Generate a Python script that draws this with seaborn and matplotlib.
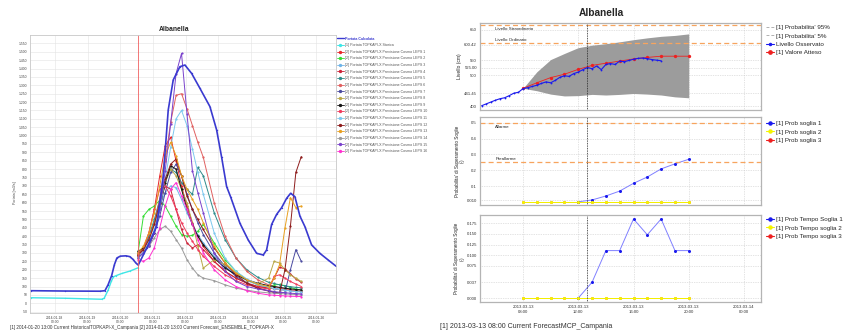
import matplotlib
matplotlib.use("Agg")
import matplotlib.pyplot as plt
import matplotlib.dates as mdates
from matplotlib.lines import Line2D
import numpy as np
import pandas as pd
import seaborn as sns

# ---------------- left chart: hydrograph ----------------
calc_tempi = ["2014-01-17 06:09", "2014-01-18 07:20", "2014-01-19 09:03", "2014-01-19 12:44",
              "2014-01-19 15:00", "2014-01-19 17:40", "2014-01-19 19:40", "2014-01-19 21:30",
              "2014-01-20 00:00", "2014-01-20 04:09", "2014-01-20 07:06", "2014-01-20 09:18",
              "2014-01-20 11:30", "2014-01-20 13:12", "2014-01-20 19:21", "2014-01-21 02:38",
              "2014-01-21 07:33", "2014-01-21 11:14", "2014-01-21 14:54", "2014-01-21 19:49",
              "2014-01-21 23:30", "2014-01-22 04:25", "2014-01-22 10:31", "2014-01-22 17:52",
              "2014-01-22 22:47", "2014-01-23 02:24", "2014-01-23 06:08", "2014-01-23 09:00",
              "2014-01-23 15:55", "2014-01-23 22:02", "2014-01-24 04:11", "2014-01-24 09:04",
              "2014-01-24 11:30", "2014-01-24 15:11", "2014-01-24 18:52", "2014-01-24 22:32",
              "2014-01-25 02:13", "2014-01-25 05:10", "2014-01-25 08:18", "2014-01-25 12:00",
              "2014-01-25 15:40", "2014-01-25 20:34", "2014-01-26 02:38", "2014-01-26 08:47",
              "2014-01-26 14:24"]
calc_portata = [75, 73, 72, 75, 110, 165, 230, 270, 281, 283, 278, 262, 240, 228, 328, 457,
                755, 1153, 1332, 1411, 1421, 1371, 1282, 1173, 1034, 874, 696, 636, 477, 377,
                298, 288, 318, 470, 530, 570, 626, 656, 636, 520, 457, 348, 298, 258, 222]

stor_tempi = ["2014-01-17 06:09", "2014-01-18 07:20", "2014-01-19 10:18", "2014-01-19 12:10",
              "2014-01-19 15:10", "2014-01-19 17:20", "2014-01-19 19:00", "2014-01-19 21:00",
              "2014-01-20 01:12", "2014-01-20 07:06", "2014-01-20 13:12"]
stor_portata = [33, 30, 24, 30, 80, 130, 158, 165, 178, 192, 212]

ens_inizio = "2014-01-20 13:00"
ens_ore = [0, 4, 8, 12, 16, 20, 24, 28, 32, 36, 40, 44, 48, 56, 64, 72, 80, 88, 96,
           100, 104, 108, 112, 116, 120]
leps_1 = [290, 330, 420, 560, 760, 940, 990, 850, 700, 580, 480, 400, 340, 250, 190, 150, 120, 100, 90, 86, 82, 78, 75, 72, 70]
leps_2 = [300, 520, 560, 580, 615, 580, 520, 460, 410, 400, 405, 430, 470, 360, 260, 190, 140, 110, 95, 110, 112, 105, 95, 85, 78]
leps_3 = [290, 320, 380, 470, 580, 660, 700, 690, 620, 540, 470, 410, 360, 280, 220, 170, 135, 110, 95, 90, 85, 80, 76, 72, 70]
leps_4 = [300, 330, 390, 480, 600, 700, 680, 560, 440, 360, 330, 350, 320, 250, 190, 150, 120, 100, 90, 150, 215, 205, 175, 145, 125]
leps_5 = [280, 320, 400, 500, 620, 730, 800, 780, 720, 680, 650, 810, 760, 540, 380, 270, 200, 155, 125, 118, 110, 104, 99, 95, 92]
leps_6 = [280, 320, 380, 470, 620, 850, 1080, 1240, 1250, 1160, 1060, 960, 870, 600, 400, 270, 190, 140, 110, 100, 92, 86, 80, 76, 72]
leps_7 = [280, 300, 350, 420, 520, 660, 780, 830, 760, 650, 560, 480, 410, 300, 220, 160, 120, 90, 75, 65, 60, 65, 200, 320, 250]
leps_8 = [290, 320, 380, 470, 590, 720, 800, 760, 680, 600, 480, 340, 210, 260, 230, 180, 140, 115, 150, 250, 240, 200, 170, 150, 130]
leps_9 = [310, 330, 340, 420, 560, 720, 820, 800, 680, 560, 470, 400, 350, 270, 210, 170, 140, 120, 105, 100, 95, 90, 86, 82, 80]
leps_10 = [280, 320, 420, 560, 680, 700, 640, 560, 480, 420, 370, 320, 280, 220, 170, 135, 110, 95, 85, 160, 170, 150, 130, 115, 100]
leps_11 = [275, 310, 360, 440, 560, 740, 930, 1100, 1150, 1060, 920, 780, 650, 420, 270, 190, 145, 115, 95, 88, 82, 77, 73, 70, 67]
leps_12 = [290, 320, 380, 470, 600, 740, 830, 860, 760, 640, 560, 500, 440, 330, 240, 170, 120, 90, 72, 65, 60, 200, 460, 780, 875]
leps_13 = [300, 340, 420, 540, 700, 880, 960, 880, 760, 680, 620, 560, 480, 340, 240, 180, 140, 115, 100, 150, 230, 450, 630, 570, 580]
leps_14 = [270, 300, 340, 390, 440, 460, 430, 380, 330, 260, 210, 170, 150, 135, 110, 90, 78, 68, 62, 60, 58, 56, 54, 52, 50]
leps_15 = [270, 300, 340, 420, 560, 790, 1070, 1370, 1490, 1130, 790, 660, 540, 300, 190, 130, 100, 85, 75, 70, 66, 63, 60, 58, 56]
leps_16 = [260, 250, 270, 330, 450, 580, 680, 720, 640, 560, 470, 380, 300, 200, 140, 100, 75, 60, 50, 48, 46, 44, 42, 41, 40]
ensemble = [leps_1, leps_2, leps_3, leps_4, leps_5, leps_6, leps_7, leps_8,
            leps_9, leps_10, leps_11, leps_12, leps_13, leps_14, leps_15, leps_16]
ens_colori = ["#e8262a", "#35dd35", "#6fb4e8", "#cc2238", "#2e8b8b", "#e06060", "#4a4aa0", "#b8a848",
              "#151515", "#f03a5c", "#7cc8ee", "#8e1c1c", "#e8a020", "#9a9a9a", "#7a42cc", "#ff30d0"]
ens_nomi = [f"[2] Portata TOPKAPI-X Previsione Cosmo LEPS {i}" for i in range(1, 17)]

# ---------------- right charts: level and probabilities ----------------
giorno = "2013-03-13 "
obs_ore = ["05:00", "05:20", "05:40", "06:00", "06:20", "06:40", "07:00", "07:20", "07:40", "08:00",
           "08:20", "08:40", "09:00", "09:20", "09:40", "10:00", "10:20", "10:40", "11:00", "11:20",
           "11:40", "12:00", "12:20", "12:40", "13:00", "13:20", "13:40", "14:00", "14:20", "14:40",
           "15:00", "15:20", "15:40", "16:00", "16:20", "16:40", "17:00", "17:20", "17:40", "18:00"]
obs_livello = [401, 407, 413, 419, 424, 427, 434, 442, 445, 457,
               460, 464, 468, 474, 479, 476, 484, 494, 499, 497,
               506, 511, 519, 526, 522, 531, 519, 536, 539, 536,
               547, 545, 549, 553, 556, 557, 555, 552, 550, 548]

prev_ore = ["08:00", "09:00", "10:00", "11:00", "12:00", "13:00", "14:00",
            "15:00", "16:00", "17:00", "18:00", "19:00", "20:00"]
valore_atteso = [458, 476, 493, 504, 520, 533, 540, 547, 554, 559, 563, 563, 563]
prob_95 = [458, 512, 552, 572, 591, 599, 604, 610, 617, 623, 628, 631, 636]
prob_5 = [458, 450, 439, 433, 434, 438, 436, 438, 441, 439, 436, 430, 427]
liv_straordinario = 664
liv_ordinario = 607

soglia_ore = ["12:00", "13:00", "14:00", "15:00", "16:00", "17:00", "18:00", "19:00", "20:00"]
prob_soglia_1 = [0.0, 0.012, 0.037, 0.068, 0.117, 0.157, 0.208, 0.24, 0.269]
prob_soglia_2 = [0.0] * 13
prob_soglia_3 = [0.0] * 13
tempo_soglia_1 = [0.0, 0.037, 0.111, 0.111, 0.185, 0.148, 0.185, 0.111, 0.111]
tempo_soglia_2 = [0.0] * 13
tempo_soglia_3 = [0.0] * 13
allarme = 0.5
preallarme = 0.25
ora_corrente = "12:40"

# ---------------- figure ----------------
sns.set_theme(style="white")
plt.rcParams["font.family"] = ["Liberation Sans", "DejaVu Sans"]

fig = plt.figure(figsize=(8.44, 3.33), dpi=100)
fig.patch.set_facecolor("white")

# left chart
ax = fig.add_axes([30 / 844, 1 - 313 / 333, 306 / 844, 278 / 333])
ax.set_facecolor("white")
t0 = pd.Timestamp(ens_inizio)
righe = []
for nome, valori in zip(ens_nomi, ensemble):
    for h, v in zip(ens_ore, valori):
        righe.append({"time": t0 + pd.Timedelta(hours=h), "portata": v, "serie": nome})
ens_df = pd.DataFrame(righe)
palette = dict(zip(ens_nomi, ens_colori))

sns.lineplot(x=pd.to_datetime(stor_tempi), y=stor_portata, color="#3fe6e6", lw=1.0,
             marker="o", ms=1.0, mew=0, ax=ax)
sns.lineplot(data=ens_df, x="time", y="portata", hue="serie", hue_order=ens_nomi,
             palette=palette, lw=0.7, marker="o", ms=1.6, mew=0, dashes=False,
             estimator=None, sort=False, legend=False, ax=ax)
sns.lineplot(x=pd.to_datetime(calc_tempi), y=calc_portata, color="#3a3ad0", lw=1.2,
             marker="o", ms=1.0, mew=0, ax=ax)
ax.axvline(t0, color="#f06060", lw=0.6)

ax.set_xlim(pd.Timestamp("2014-01-17 05:40"), pd.Timestamp("2014-01-26 14:30"))
ax.set_ylim(-58, 1600)
ax.set_yticks(np.arange(-50, 1551, 50))
ax.yaxis.set_major_formatter(plt.FuncFormatter(lambda v, p: f"{v:,.0f}".replace(",", ".")))
ax.set_xticks(pd.date_range("2014-01-18", "2014-01-26", freq="D"))
ax.xaxis.set_major_formatter(mdates.DateFormatter("%Y-%m-%d\n%H:%M"))
ax.tick_params(labelsize=2.4, length=1, width=0.3, pad=1, colors="#444444")
ax.grid(True, color="#e4e4e4", lw=0.4)
for s in ax.spines.values():
    s.set_color("#c8c8c8")
    s.set_linewidth(0.6)
ax.set_xlabel("")
ax.set_ylabel("")
fig.text(15 / 844, 1 - 193 / 333, "Portata [m3/s]", rotation=90, fontsize=2.6,
         ha="center", va="center", color="#444444")
fig.text(174 / 844, 1 - 29.5 / 333, "Albanella", fontsize=4.9, fontweight="bold",
         ha="center", va="center")

h_left = [Line2D([], [], color="#3a3ad0", lw=1.0),
          Line2D([], [], color="#3fe6e6", lw=0.7, marker="o", ms=1.4)]
h_left += [Line2D([], [], color=c, lw=0.6, marker="o", ms=1.4) for c in ens_colori]
l_left = ["Portata Calcolata", "[1] Portata TOPKAPI-X Storica"] + ens_nomi
leg = fig.legend(h_left, l_left, loc="upper left", bbox_to_anchor=(337 / 844, 1 - 36.5 / 333),
                 fontsize=2.6, frameon=False, handlelength=1.8, handletextpad=0.5,
                 labelspacing=0.73, borderpad=0, borderaxespad=0)
for t in leg.get_texts():
    t.set_color("#555555")
leg.get_texts()[0].set_color("#3a3ad0")
leg.get_texts()[0].set_fontweight("bold")

fig.text(10 / 844, 1 - 328 / 333,
         "[1] 2014-01-20 13:00 Current HistoricalTOPKAPI-X_Campania [2] 2014-01-20 13:00 Current Forecast_ENSEMBLE_TOPKAPI-X",
         fontsize=3.3, ha="left", va="center", color="#333333")

# right charts
x_l = 480 / 844
w_r = 281 / 844
ax1 = fig.add_axes([x_l, 1 - 110 / 333, w_r, 87 / 333])
ax2 = fig.add_axes([x_l, 1 - 205 / 333, w_r, 88 / 333])
ax3 = fig.add_axes([x_l, 1 - 302.3 / 333, w_r, 87.6 / 333])

t_obs = pd.to_datetime([giorno + o for o in obs_ore])
t_prev = pd.to_datetime([giorno + o for o in prev_ore])
t_sog = pd.to_datetime([giorno + o for o in soglia_ore])
t_now = pd.Timestamp(giorno + ora_corrente)

arancio = "#f7a45e"
blu = "#1a1aee"
rosso = "#ee2020"
giallo = "#f4f400"

ax1.fill_between(t_prev, prob_5, prob_95, color="#9c9c9c", lw=0)
sns.lineplot(x=t_prev, y=valore_atteso, color=rosso, lw=0.6, marker="o", ms=2.4, mew=0, ax=ax1)
sns.lineplot(x=t_obs, y=obs_livello, color=blu, lw=0.8, marker="o", ms=1.3, mew=0, ax=ax1)
for liv in (liv_straordinario, liv_ordinario):
    ax1.axhline(liv, color=arancio, ls=(0, (4, 2.5)), lw=0.9)
ax1.text(pd.Timestamp(giorno + "06:00"), liv_straordinario - 4, "Livello Straordinario",
         fontsize=3.2, va="top", ha="left")
ax1.text(pd.Timestamp(giorno + "06:00"), liv_ordinario + 4, "Livello Ordinario",
         fontsize=3.2, va="bottom", ha="left")
ax1.set_ylim(387, 671.6)
ax1.set_yticks([400, 441.45, 500, 525, 550, 600.42, 650])
ax1.set_yticklabels(["400", "441.45", "500", "525.00", "550", "600.42", "650"])
ax1.get_yticklabels()[3].set_color("#3030ff")
ax1.set_ylabel("Livello (cm)", fontsize=3.6, labelpad=1.5)

sns.lineplot(x=t_prev, y=prob_soglia_3, color=rosso, lw=0.6, marker="o", ms=2.0, mew=0, ax=ax2)
sns.lineplot(x=t_sog, y=prob_soglia_1, color="#8080ff", lw=0.7, marker="o", ms=2.2, mfc=blu,
             mec=blu, mew=0, ax=ax2)
sns.lineplot(x=t_prev, y=prob_soglia_2, color=giallo, lw=0.7, marker="o", ms=2.2, mew=0, ax=ax2)
for liv in (allarme, preallarme):
    ax2.axhline(liv, color=arancio, ls=(0, (4, 2.5)), lw=0.9)
ax2.text(pd.Timestamp(giorno + "06:00"), allarme - 0.012, "Allarme", fontsize=3.2, va="top", ha="left")
ax2.text(pd.Timestamp(giorno + "06:00"), preallarme + 0.006, "Preallarme", fontsize=3.2,
         va="bottom", ha="left")
ax2.set_ylim(-0.02, 0.536)
ax2.set_yticks([0.01, 0.1, 0.2, 0.3, 0.4, 0.5])
ax2.set_yticklabels(["0.010", "0.1", "0.2", "0.3", "0.4", "0.5"])
ax2.get_yticklabels()[0].set_color("#3030ff")
ax2.set_ylabel("Probabilita' di Superamento Soglie\n(-)", fontsize=3.3, labelpad=1.5,
               linespacing=1.0)

sns.lineplot(x=t_prev, y=tempo_soglia_3, color=rosso, lw=0.6, marker="o", ms=2.0, mew=0, ax=ax3)
sns.lineplot(x=t_sog, y=tempo_soglia_1, color="#8080ff", lw=0.7, marker="o", ms=2.2, mfc=blu,
             mec=blu, mew=0, ax=ax3)
sns.lineplot(x=t_prev, y=tempo_soglia_2, color=giallo, lw=0.7, marker="o", ms=2.2, mew=0, ax=ax3)
ax3.set_ylim(-0.010, 0.195)
ax3.set_yticks([0.0, 0.037, 0.075, 0.1, 0.125, 0.15, 0.175])
ax3.set_yticklabels(["0.000", "0.037", "0.075", "0.100", "0.125", "0.150", "0.175"])
ax3.get_yticklabels()[0].set_color("#d8d800")
ax3.get_yticklabels()[1].set_color("#3030ff")
ax3.set_ylabel("Probabilita' di Superamento Soglie\n(-)", fontsize=3.3, labelpad=1.5,
               linespacing=1.0)

for a in (ax1, ax2, ax3):
    a.set_facecolor("white")
    a.set_xlim(pd.Timestamp(giorno + "04:53"), pd.Timestamp("2013-03-14 01:14"))
    a.set_xticks(pd.date_range(giorno + "08:00", "2013-03-14 00:00", freq="4h"))
    a.xaxis.set_major_formatter(mdates.DateFormatter("%Y-%m-%d\n%H:%M"))
    a.axvline(t_now, color="#222222", ls=(0, (1, 1)), lw=0.6)
    a.grid(True, color="#c8c8c8", ls=(0, (1, 1.5)), lw=0.5)
    a.tick_params(labelsize=3.1, length=1.2, width=0.4, pad=1, colors="#333333")
    a.set_xlabel("")
    for s in a.spines.values():
        s.set_color("#b4b4b4")
        s.set_linewidth(0.9)
for a in (ax1, ax2):
    a.tick_params(labelbottom=False)
for lab in ax3.get_xticklabels():
    lab.set_linespacing(1.1)

fig.text(601.7 / 844, 1 - 12.5 / 333, "Albanella", fontsize=7.3, fontweight="bold",
         ha="center", va="center")

leg_kw = dict(loc="upper left", fontsize=4.5, frameon=False, handlelength=1.3,
              handletextpad=0.35, labelspacing=0.45, borderpad=0, borderaxespad=0)
fig.legend([Line2D([], [], color="#b0b0b0", ls=(0, (3, 2)), lw=0.7),
            Line2D([], [], color="#b0b0b0", ls=(0, (3, 2)), lw=0.7),
            Line2D([], [], color=blu, lw=0.8, marker="o", ms=1.5),
            Line2D([], [], color=rosso, lw=0.8, marker="o", ms=2.4)],
           ["[1] Probabilita' 95%", "[1] Probabilita' 5%", "Livello Osservato", "[1] Valore Atteso"],
           bbox_to_anchor=(766 / 844, 1 - 25 / 333), **leg_kw)
fig.legend([Line2D([], [], color=c, lw=0.8, marker="o", ms=2.2) for c in (blu, giallo, rosso)],
           ["[1] Prob soglia 1", "[1] Prob soglia 2", "[1] Prob soglia 3"],
           bbox_to_anchor=(766 / 844, 1 - 121 / 333), **leg_kw)
fig.legend([Line2D([], [], color=c, lw=0.8, marker="o", ms=2.2) for c in (blu, giallo, rosso)],
           ["[1] Prob Tempo Soglia 1", "[1] Prob Tempo soglia 2", "[1] Prob Tempo soglia 3"],
           bbox_to_anchor=(766 / 844, 1 - 217 / 333), **leg_kw)

fig.text(440 / 844, 1 - 327 / 333, "[1] 2013-03-13 08:00 Current ForecastMCP_Campania",
         fontsize=5.0, ha="left", va="center", color="#333333")

fig.savefig("out.png", dpi=100, facecolor="white")
